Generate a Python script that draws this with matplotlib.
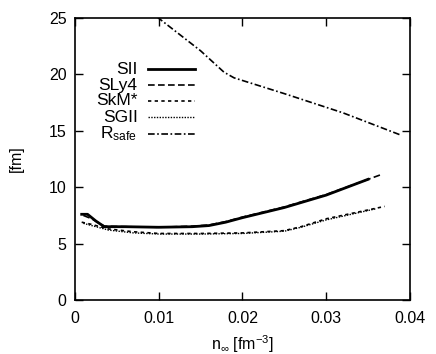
import matplotlib
matplotlib.use("Agg")
import matplotlib.pyplot as plt

plt.rcParams['font.family'] = ['Liberation Sans', 'DejaVu Sans']
plt.rcParams['mathtext.fontset'] = 'custom'
plt.rcParams['mathtext.rm'] = 'Liberation Sans'
plt.rcParams['mathtext.it'] = 'Liberation Sans'

# SII (thick solid)
sii_x = [0.0008, 0.0015, 0.0025, 0.0035, 0.006, 0.010, 0.014, 0.016, 0.018, 0.020, 0.025, 0.030, 0.035]
sii_y = [7.6, 7.6, 7.0, 6.5, 6.5, 6.45, 6.5, 6.6, 6.9, 7.3, 8.2, 9.3, 10.7]

# SLy4 (dashed) - follows SII closely
sly4_x = [0.0010, 0.0020, 0.0035, 0.006, 0.010, 0.014, 0.016, 0.018, 0.020, 0.025, 0.030, 0.0365]
sly4_y = [7.5, 7.2, 6.55, 6.5, 6.45, 6.55, 6.65, 6.95, 7.35, 8.25, 9.35, 11.1]

# SkM* (dotted)
skm_x = [0.0008, 0.002, 0.004, 0.007, 0.010, 0.015, 0.020, 0.025, 0.027, 0.030, 0.0370]
skm_y = [6.9, 6.7, 6.3, 6.05, 5.9, 5.9, 5.95, 6.15, 6.5, 7.2, 8.3]

# SGII (fine dotted)
sgii_x = [0.0010, 0.002, 0.004, 0.007, 0.010, 0.015, 0.020, 0.025, 0.027, 0.030, 0.0360]
sgii_y = [6.8, 6.6, 6.2, 5.95, 5.85, 5.85, 5.9, 6.1, 6.45, 7.1, 8.1]

# R_safe (dash-dot)
rs_x = [0.0098, 0.0150, 0.0178, 0.0190, 0.025, 0.032, 0.039]
rs_y = [25.1, 22.1, 20.2, 19.7, 18.3, 16.6, 14.6]

labels = ['SII', 'SLy4', 'SkM*', 'SGII', 'R$_{\\rm safe}$']
styles = ['-', (0, (4, 2)), (0, (2, 2)), (0, (1, 1)), (0, (4, 1.5, 1, 1.5))]
widths = [2.0, 1.2, 1.2, 1.0, 1.2]

fig = plt.figure(figsize=(4.36, 3.54), dpi=100)
ax = fig.add_axes([0.172, 0.1525, 0.768, 0.7965])

series = [(sii_x, sii_y), (sly4_x, sly4_y), (skm_x, skm_y), (sgii_x, sgii_y), (rs_x, rs_y)]
for (x, y), ls, lw in zip(series, styles, widths):
    ax.plot(x, y, color='black', lw=lw, ls=ls)

# key, gnuplot style: right-aligned text then line sample
key_y = [0.819, 0.762, 0.706, 0.649, 0.589]
for lab, ls, lw, ky in zip(labels, styles, widths, key_y):
    ax.text(0.187, ky, lab, transform=ax.transAxes, ha='right', va='center', fontsize=12.5)
    ax.plot([0.218, 0.358], [ky, ky], transform=ax.transAxes, color='black', lw=lw, ls=ls, clip_on=False)

ax.set_xlim(0, 0.04)
ax.set_ylim(0, 25)
ax.set_xticks([0, 0.01, 0.02, 0.03, 0.04])
ax.set_xticklabels(['0', '0.01', '0.02', '0.03', '0.04'])
ax.set_yticks([0, 5, 10, 15, 20, 25])
ax.tick_params(direction='in', length=6, width=1, top=True, right=True, labelsize=11.5)
ax.tick_params(axis='x', pad=8)
ax.tick_params(axis='y', pad=6)
for s in ax.spines.values():
    s.set_linewidth(1.2)

ax.set_xlabel('n$_\\infty$ [fm$^{-3}$]', fontsize=11.5, labelpad=5)
ax.set_ylabel('[fm]', fontsize=11.5, labelpad=18)

fig.savefig('out.png', dpi=100)
